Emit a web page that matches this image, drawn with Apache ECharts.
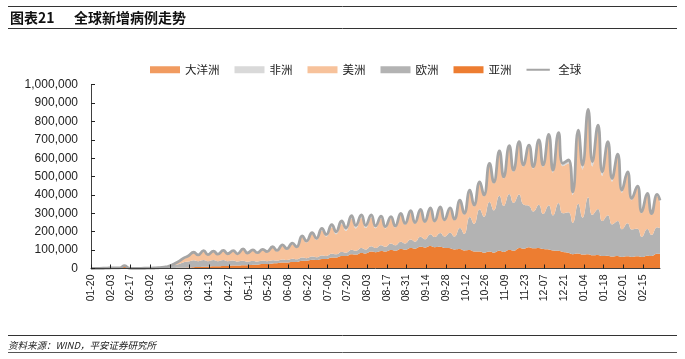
<!DOCTYPE html>
<html>
<head>
<meta charset="utf-8">
<script src="https://cdn.jsdelivr.net/npm/echarts@6/dist/echarts.min.js"></script>
<style>
html,body{margin:0;padding:0;background:#fff;}
#chart{width:685px;height:359px;}
</style>
</head>
<body>
<div id="chart"></div>
<script>
// Day offsets from 2020-01-20
var days = [0,3,6,10,13,17,20,24,27,31,
  34,38,41,45,48,52,55,59,62,66,
  69,73,76,80,83,87,90,94,97,101,
  104,108,111,115,118,122,125,129,132,136,
  139,143,146,150,153,157,160,164,167,171,
  174,178,181,185,188,192,195,199,202,206,
  209,213,216,220,223,227,230,234,237,241,
  244,248,251,255,258,262,265,269,272,276,
  279,283,286,290,293,297,300,304,307,311,
  314,318,321,325,328,332,335,339,342,346,
  349,353,356,360,363,367,370,374,377,381,
  384,388,391,395,398,402,404];

// New cases, thousands
var asia = [0.1,0.3,0.7,1.8,2.8,3.7,3.0,15.1,2.1,0.9,
  0.9,0.9,1.2,1.4,1.6,1.8,2.0,2.5,3.5,4.5,
  5.5,7,7.5,10,10,12,12,14,14,16,
  16,18,18,20,21,24,24,27,28,32,
  32,36,36,42,42,47,46,52,52,60,
  60,68,68,78,76,85,82,92,88,95,
  92,100,96,106,102,112,108,118,114,122,
  116,118,112,110,104,106,98,100,92,92,
  86,92,86,96,90,100,96,112,108,116,
  110,112,106,104,98,96,90,86,78,82,
  76,78,72,74,68,70,65,68,63,66,
  62,66,62,70,68,80,80];

var europe = [0,0,0,0,0,0,0,0,0,0,
  0.1,0.3,0.7,1.2,2.2,4.5,8,16,20,30,
  32,38,32,36,30,34,28,32,26,28,
  22,24,19,21,17,19,16,18,15,17,
  14,17,14,18,14,18,15,19,16,20,
  17,22,18,24,20,26,21,29,24,32,
  26,36,30,40,34,46,38,55,45,65,
  55,75,62,85,70,115,90,180,150,230,
  195,270,230,300,250,305,260,290,240,225,
  200,235,190,240,190,260,210,220,170,270,
  200,310,220,250,190,220,175,190,150,180,
  150,150,110,145,115,145,140];

var americas = [0,0,0,0,0,0,0,0,0,0,
  0,0.1,0.1,0.2,0.2,1,1.8,6,13,22,
  29,42,33,50,34,47,36,50,38,50,
  39,61,44,57,44,57,47,68,50,73,
  56,78,61,109,85,120,94,136,106,145,
  110,152,118,168,122,164,117,157,107,146,
  99,137,96,146,102,150,97,142,90,136,
  81,135,85,128,88,144,105,139,96,142,
  111,202,146,234,150,253,169,278,205,320,
  233,341,256,373,234,367,256,266,152,377,
  263,448,263,428,246,378,233,347,200,267,
  159,221,128,183,108,169,141];

var africa = [0,0,0,0,0,0,0,0,0,0,
  0,0,0,0,0.05,0.1,0.15,0.3,0.5,0.8,
  1.0,1.2,1.2,1.5,1.5,1.8,1.8,2.2,2.2,2.8,
  2.8,3.2,3.2,3.8,3.8,4.5,4.5,5.2,5.2,6,
  6,7,7,8.5,8.5,9.5,9.5,11,11,13,
  13,16,16,17,16,16,14,13,12,11,
  10,9,8,7.5,7,7,6.5,6.5,6,6.5,
  6,6.5,6,6.5,6,7,6.5,7,6.5,7.5,
  7,8,7.5,9,8.5,10,9.5,10,10,10.5,
  10,11,11,13,13,16,16,18,17,24,
  24,30,26,28,22,22,17,17,13,13,
  10,11,8,10,8,9,9];

var oceania = [0,0,0,0,0,0,0,0,0,0,
  0,0,0,0,0,0.05,0.1,0.2,0.3,0.4,
  0.4,0.3,0.2,0.1,0.1,0.1,0.05,0.05,0.05,0.05,
  0.05,0.05,0.05,0.05,0.05,0.05,0.05,0.05,0.05,0.05,
  0.05,0.05,0.05,0.1,0.1,0.1,0.1,0.2,0.2,0.3,
  0.3,0.4,0.4,0.6,0.6,0.7,0.7,0.6,0.6,0.5,
  0.5,0.4,0.4,0.3,0.3,0.2,0.2,0.2,0.2,0.2,
  0.2,0.2,0.2,0.2,0.2,0.2,0.2,0.2,0.2,0.2,
  0.2,0.2,0.2,0.2,0.2,0.2,0.2,0.2,0.2,0.2,
  0.2,0.2,0.2,0.2,0.2,0.2,0.2,0.2,0.2,0.2,
  0.2,0.2,0.2,0.2,0.2,0.2,0.2,0.2,0.2,0.2,
  0.2,0.2,0.2,0.2,0.2,0.2,0.2];

var tickDays = [0,14,28,42,56,70,84,98,112,126,140,154,168,182,196,210,224,238,252,266,280,294,308,322,336,350,364,378,392];
var tickLabels = ['01-20','02-03','02-17','03-02','03-16','03-30','04-13','04-27','05-11','05-25','06-08','06-22','07-06','07-20','08-03','08-17','08-31','09-14','09-28','10-12','10-26','11-09','11-23','12-07','12-21','01-04','01-18','02-01','02-15'];

// value first, day second, so stacking applies to the value dimension
function pairs(arr){ return days.map(function(d,i){ return [arr[i], d]; }); }
var globalTotal = days.map(function(d,i){
  return [Math.round((asia[i]+europe[i]+americas[i]+africa[i]+oceania[i])*100)/100, d];
});

var SANS = '"Liberation Sans", Arial, sans-serif';
var CJK = '"Noto Sans CJK SC", "Liberation Sans", sans-serif';

function areaSeries(name, arr, color){
  return {
    name: name, type: 'line', stack: 'all', data: pairs(arr),
    encode: {x: 1, y: 0},
    symbol: 'none', showSymbol: false, smooth: 0.5,
    color: color,
    itemStyle: {color: color},
    lineStyle: {width: 0, color: color},
    areaStyle: {color: color, opacity: 1},
    emphasis: {disabled: true}
  };
}

var chart = echarts.init(document.getElementById('chart'), null, {renderer: 'canvas'});
var option = {
  animation: false,
  backgroundColor: '#fff',
  grid: {left: 91, right: 25, top: 84.7, bottom: 90.5, containLabel: false},
  legend: {
    left: 145, top: 59, itemWidth: 30, itemHeight: 7, itemGap: 15,
    textStyle: {fontSize: 11.5, color: '#222', fontFamily: CJK},
    data: [
      {name: '大洋洲', icon: 'rect'},
      {name: '非洲', icon: 'rect'},
      {name: '美洲', icon: 'rect'},
      {name: '欧洲', icon: 'rect'},
      {name: '亚洲', icon: 'rect'},
      {name: '全球', icon: 'path://M0,0h0.01v0.01h-0.01z M0,3.3h30v2.4h-30z M0,8.99h0.01v0.01h-0.01z'}
    ]
  },
  xAxis: {
    type: 'value', min: 0, max: 404, interval: 14, z: 10,
    splitLine: {show: false},
    axisLine: {show: true, lineStyle: {color: '#404040', width: 1}},
    axisTick: {show: true, inside: true, length: 4, customValues: tickDays, lineStyle: {color: '#222'}},
    axisLabel: {
      customValues: tickDays, rotate: 90, margin: 6, fontSize: 10.5, color: '#222', fontFamily: SANS,
      formatter: function(v){ var i = tickDays.indexOf(v); return i >= 0 ? tickLabels[i] : ''; }
    }
  },
  yAxis: {
    type: 'value', min: 0, max: 1000, interval: 100, z: 10,
    splitLine: {show: false},
    axisLine: {show: true, lineStyle: {color: '#404040', width: 1}},
    axisTick: {show: true, inside: true, length: 4, lineStyle: {color: '#222'}},
    axisLabel: {
      margin: 13, fontSize: 12, color: '#222', fontFamily: SANS,
      formatter: function(v){ return v === 0 ? '0' : (v*1000).toLocaleString('en-US'); }
    }
  },
  series: [
    areaSeries('亚洲', asia, '#ED7D31'),
    areaSeries('欧洲', europe, '#B3B3B3'),
    areaSeries('美洲', americas, '#F7C29B'),
    areaSeries('非洲', africa, '#D9D9D9'),
    areaSeries('大洋洲', oceania, '#F19B60'),
    {
      name: '全球', type: 'line', data: globalTotal, z: 5,
      encode: {x: 1, y: 0},
      symbol: 'none', showSymbol: false, smooth: 0.5,
      color: '#A5A5A5',
      itemStyle: {color: '#A5A5A5'},
      lineStyle: {width: 2.8, color: '#A5A5A5'},
      emphasis: {disabled: true}
    }
  ],
  graphic: [
    {type: 'line', shape: {x1: 8, y1: 6.5, x2: 677, y2: 6.5}, style: {stroke: '#333', lineWidth: 1}},
    {type: 'text', x: 10, y: 18, style: {text: '图表21', font: 'bold 14px ' + CJK, fill: '#111', textVerticalAlign: 'middle', verticalAlign: 'middle'}},
    {type: 'text', x: 74, y: 18, style: {text: '全球新增病例走势', font: 'bold 14px ' + CJK, fill: '#111', textVerticalAlign: 'middle', verticalAlign: 'middle'}},
    {type: 'line', shape: {x1: 8, y1: 28.5, x2: 677, y2: 28.5}, style: {stroke: '#333', lineWidth: 1}},
    {type: 'line', shape: {x1: 8, y1: 335.5, x2: 677, y2: 335.5}, style: {stroke: '#333', lineWidth: 1}},
    {type: 'text', x: 8, y: 345, style: {text: '资料来源：WIND，平安证券研究所', font: 'italic 9.5px ' + CJK, fill: '#222', textVerticalAlign: 'middle', verticalAlign: 'middle'}},
    {type: 'line', shape: {x1: 8, y1: 352.5, x2: 677, y2: 352.5}, style: {stroke: '#555', lineWidth: 1}}
  ]
};
chart.setOption(option);
</script>
</body>
</html>
